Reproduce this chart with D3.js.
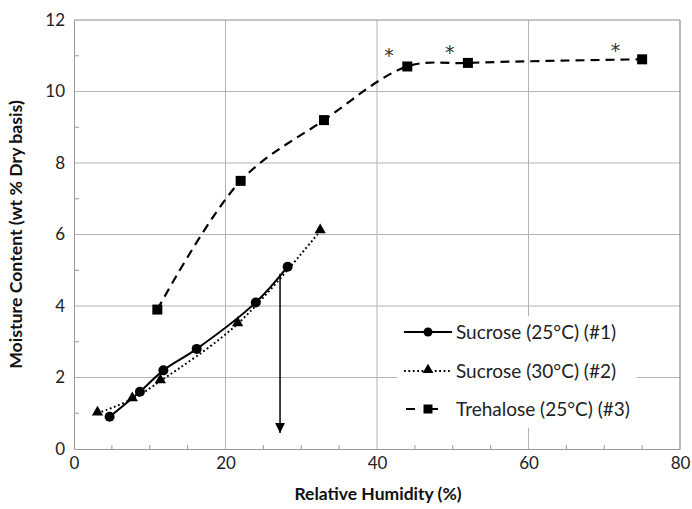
<!DOCTYPE html>
<html>
<head>
<meta charset="utf-8">
<script src="https://cdn.jsdelivr.net/npm/d3@7/dist/d3.min.js"></script>
<style>
  html, body { margin: 0; padding: 0; background: #fff; }
  svg { display: block; }
</style>
</head>
<body>
<svg id="chart" width="692" height="509"></svg>
<script>
// ---- Data ----
const sucrose25_rh = [4.7, 8.7, 11.8, 16.2, 24.0, 28.2];
const sucrose25_mc = [0.9, 1.6, 2.2, 2.8, 4.1, 5.1];

const sucrose30_rh = [3.1, 7.7, 11.4, 21.6, 32.5];
const sucrose30_mc = [1.0, 1.4, 1.9, 3.5, 6.1];

const trehalose25_rh = [11.0, 22.0, 33.0, 44.0, 52.0, 75.0];
const trehalose25_mc = [3.9, 7.5, 9.2, 10.7, 10.8, 10.9];

const asterisk_rh = [41.6, 49.6, 71.5];
const asterisk_mc = [11.1, 11.2, 11.25];

const arrow_rh = [27.2, 27.2];
const arrow_mc = [4.9, 0.45];

const xTicks = [0, 20, 40, 60, 80];
const yTicks = [0, 2, 4, 6, 8, 10, 12];
const seriesNames = ["Sucrose (25°C) (#1)", "Sucrose (30°C) (#2)", "Trehalose (25°C) (#3)"];

// ---- Layout ----
const FONT = "Lato, 'Open Sans', sans-serif";
const svg = d3.select("#chart");
const x = d3.scaleLinear().domain([0, 80]).range([74, 680]);
const y = d3.scaleLinear().domain([0, 12]).range([449, 20]);

const grid = svg.append("g");
grid.selectAll("line.vx").data(xTicks.filter(d => d > 0 && d < 80)).enter()
  .append("line").attr("x1", d => x(d)).attr("x2", d => x(d))
  .attr("y1", y(0)).attr("y2", y(12)).attr("stroke", "#b4b4b4").attr("stroke-width", 1);
grid.selectAll("line.hy").data(yTicks.filter(d => d > 0 && d < 12)).enter()
  .append("line").attr("x1", x(0)).attr("x2", x(80))
  .attr("y1", d => y(d)).attr("y2", d => y(d)).attr("stroke", "#b4b4b4").attr("stroke-width", 1);
grid.append("line").attr("x1", x(0)).attr("x2", x(80)).attr("y1", y(12)).attr("y2", y(12))
  .attr("stroke", "#8c8c8c").attr("stroke-width", 1.2);
grid.append("line").attr("x1", x(80)).attr("x2", x(80)).attr("y1", y(0)).attr("y2", y(12))
  .attr("stroke", "#8c8c8c").attr("stroke-width", 1.2);

// axes
const xAxis = d3.axisBottom(x).tickValues(xTicks).tickSize(0).tickPadding(8);
const gx = svg.append("g").attr("transform", `translate(0,${y(0)})`).call(xAxis);
gx.select(".domain").attr("stroke", "#999");
gx.selectAll("text").attr("font-family", FONT).attr("font-size", 17).attr("fill", "#222");
svg.append("g").selectAll("line").data(d3.range(5, 80, 5).filter(d => d % 20 !== 0)).enter()
  .append("line").attr("x1", d => x(d)).attr("x2", d => x(d))
  .attr("y1", y(0)).attr("y2", y(0) - 4).attr("stroke", "#999");

const yAxis = d3.axisLeft(y).tickValues(yTicks).tickSize(0).tickPadding(9);
const gy = svg.append("g").attr("transform", `translate(${x(0)},0)`).call(yAxis);
gy.select(".domain").attr("stroke", "#999");
gy.selectAll("text").attr("font-family", FONT).attr("font-size", 17).attr("fill", "#222");
svg.append("g").selectAll("line").data(d3.range(1, 12, 2)).enter()
  .append("line").attr("x1", x(0)).attr("x2", x(0) + 5)
  .attr("y1", d => y(d)).attr("y2", d => y(d)).attr("stroke", "#999");

// axis titles
svg.append("text").attr("x", (x(0) + x(80)) / 2 + 1).attr("y", 500)
  .attr("text-anchor", "middle").attr("font-family", FONT).attr("font-weight", "bold")
  .attr("font-size", 17.5).attr("fill", "#111").text("Relative Humidity (%)");
svg.append("text").attr("transform", `translate(22,${(y(0) + y(12)) / 2}) rotate(-90)`)
  .attr("text-anchor", "middle").attr("font-family", FONT).attr("font-weight", "bold")
  .attr("font-size", 17.7).attr("fill", "#111").text("Moisture Content (wt % Dry basis)");

// ---- Series ----
const zip = (a, b) => a.map((v, i) => [v, b[i]]);
const s1 = zip(sucrose25_rh, sucrose25_mc);
const s2 = zip(sucrose30_rh, sucrose30_mc);
const s3 = zip(trehalose25_rh, trehalose25_mc);

const line = d3.line().x(d => x(d[0])).y(d => y(d[1])).curve(d3.curveCatmullRom.alpha(0.5));

const plot = svg.append("g");
plot.append("path").datum(s3).attr("d", line).attr("fill", "none")
  .attr("stroke", "#000").attr("stroke-width", 2.2).attr("stroke-dasharray", "9,6");
plot.append("path").datum(s2).attr("d", line).attr("fill", "none")
  .attr("stroke", "#000").attr("stroke-width", 2).attr("stroke-dasharray", "1.8,2.6");
plot.append("path").datum(s1).attr("d", line).attr("fill", "none")
  .attr("stroke", "#000").attr("stroke-width", 2);

plot.selectAll("path.tri").data(s2).enter().append("path")
  .attr("d", d3.symbol().type(d3.symbolTriangle).size(55))
  .attr("transform", d => `translate(${x(d[0])},${y(d[1]) - 1})`).attr("fill", "#000");
plot.selectAll("rect.sq").data(s3).enter().append("rect")
  .attr("x", d => x(d[0]) - 5).attr("y", d => y(d[1]) - 5)
  .attr("width", 10).attr("height", 10).attr("fill", "#000");
plot.selectAll("circle.c").data(s1).enter().append("circle")
  .attr("cx", d => x(d[0])).attr("cy", d => y(d[1])).attr("r", 5).attr("fill", "#000");

// arrow
const defs = svg.append("defs");
defs.append("marker").attr("id", "ah").attr("viewBox", "0 0 10 10")
  .attr("refX", 10).attr("refY", 5).attr("markerWidth", 10).attr("markerHeight", 10)
  .attr("markerUnits", "userSpaceOnUse").attr("orient", "auto")
  .append("path").attr("d", "M0,0 L10,5 L0,10 Z").attr("fill", "#000");
plot.append("line").attr("x1", x(arrow_rh[0])).attr("x2", x(arrow_rh[1]))
  .attr("y1", y(arrow_mc[0])).attr("y2", y(arrow_mc[1]))
  .attr("stroke", "#000").attr("stroke-width", 1.5).attr("marker-end", "url(#ah)");

// asterisks
plot.selectAll("text.ast").data(zip(asterisk_rh, asterisk_mc)).enter().append("text")
  .attr("x", d => x(d[0])).attr("y", d => y(d[1]) + 10).attr("text-anchor", "middle")
  .attr("font-family", "'DejaVu Sans', sans-serif").attr("font-size", 19).attr("fill", "#333").text("*");

// ---- Legend ----
const lg = svg.append("g");
lg.append("rect").attr("x", 397).attr("y", 316).attr("width", 240).attr("height", 112).attr("fill", "#fff");
const rowsY = [332, 371, 409];
const styles = [
  { dash: null, w: 2, mark: "circle" },
  { dash: "1.8,2.6", w: 2, mark: "tri" },
  { dash: "9,14", w: 2.2, mark: "sq" }
];
seriesNames.forEach((name, i) => {
  const yy = rowsY[i];
  const l = lg.append("line").attr("x1", 404).attr("x2", 452).attr("y1", yy).attr("y2", yy)
    .attr("stroke", "#000").attr("stroke-width", styles[i].w);
  if (styles[i].dash) l.attr("stroke-dasharray", styles[i].dash);
  if (i === 2) l.attr("stroke-dashoffset", -2);
  if (styles[i].mark === "circle") lg.append("circle").attr("cx", 428).attr("cy", yy).attr("r", 4.5).attr("fill", "#000");
  if (styles[i].mark === "tri") lg.append("path").attr("d", d3.symbol().type(d3.symbolTriangle).size(50)())
    .attr("transform", `translate(428,${yy - 1})`).attr("fill", "#000");
  if (styles[i].mark === "sq") lg.append("rect").attr("x", 423.5).attr("y", yy - 4.5).attr("width", 9).attr("height", 9).attr("fill", "#000");
  lg.append("text").attr("x", 456).attr("y", yy + 6.5).attr("font-family", FONT)
    .attr("font-size", 19).attr("fill", "#222").text(name);
});
</script>
</body>
</html>
